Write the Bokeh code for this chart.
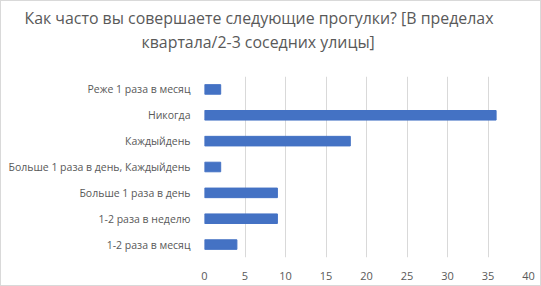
from bokeh.plotting import figure
from bokeh.models import ColumnDataSource, FixedTicker, Range1d, Title
from bokeh.embed import file_html
from bokeh.resources import INLINE

categories = [
    "1-2 раза в месяц",
    "1-2 раза в неделю",
    "Больше 1 раза в день",
    "Больше 1 раза в день, Каждыйдень",
    "Каждыйдень",
    "Никогда",
    "Реже 1 раза в месяц",
]
values = [4, 9, 9, 2, 18, 36, 2]
x_ticks = [0, 5, 10, 15, 20, 25, 30, 35, 40]
title_lines = [
    "Как часто вы совершаете следующие прогулки? [В пределах",
    "квартала/2-3 соседних улицы]",
]
title_offsets = [-180, -63]

source = ColumnDataSource(data=dict(cat=categories, val=values))

p = figure(
    width=541, height=286,
    y_range=categories,
    x_range=Range1d(0, 40),
    output_backend="svg",
    toolbar_location=None,
    min_border_left=203, min_border_right=14,
    min_border_top=75, min_border_bottom=30,
)
p.styles = {"border": "1px solid #d9d9d9", "box-sizing": "border-box"}

# spacer panel between the title lines and the plot frame
p.add_layout(Title(text=" ", text_font_size="10px", standoff=11,
                   text_color="#ffffff"), "above")
for line, off in reversed(list(zip(title_lines, title_offsets))):
    p.add_layout(Title(
        text=line, align="left", offset=off, standoff=0,
        text_font="Open Sans", text_font_size="15.9px",
        text_font_style="normal", text_color="#595959",
    ), "above")

p.hbar(y="cat", right="val", left=0, height=0.37, source=source,
       color="#4472C4")

p.xaxis.ticker = FixedTicker(ticks=x_ticks)
p.xaxis.axis_line_color = None
p.xaxis.major_tick_line_color = None
p.xaxis.minor_tick_line_color = None
p.xaxis.major_label_text_font = "Open Sans"
p.xaxis.major_label_text_font_size = "11px"
p.xaxis.major_label_text_color = "#595959"
p.xaxis.major_label_standoff = 8

p.yaxis.axis_line_color = None
p.yaxis.major_tick_line_color = None
p.yaxis.minor_tick_line_color = None
p.yaxis.major_label_text_font = "Open Sans"
p.yaxis.major_label_text_font_size = "10.5px"
p.yaxis.major_label_text_color = "#595959"
p.yaxis.major_label_standoff = 8

p.xgrid.grid_line_color = "#d9d9d9"
p.ygrid.grid_line_color = None
p.outline_line_color = None

open("out.html", "w").write(file_html(p, INLINE))
